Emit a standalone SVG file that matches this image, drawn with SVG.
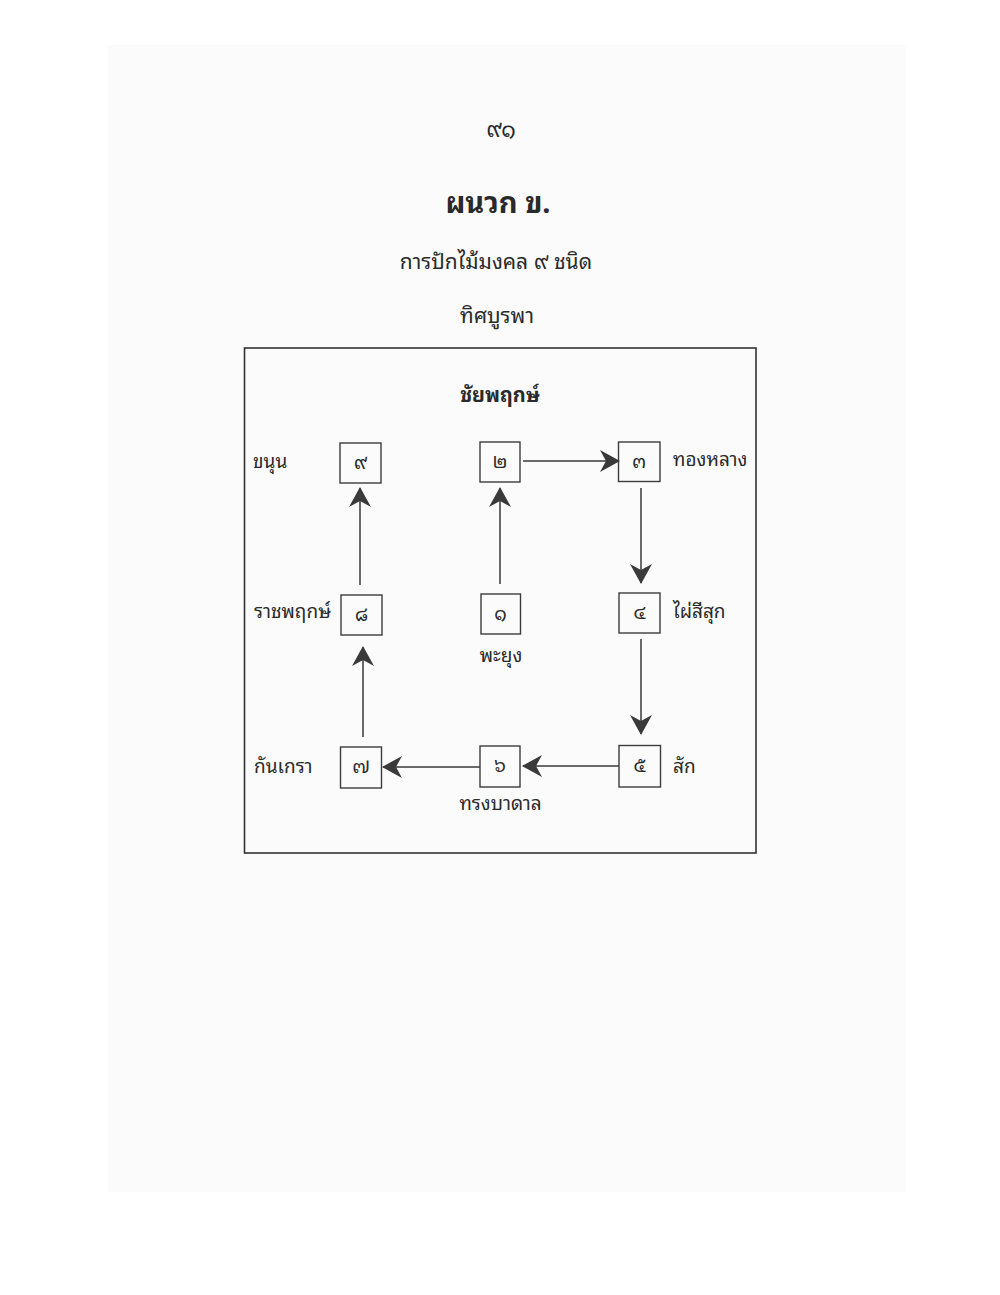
<svg xmlns="http://www.w3.org/2000/svg" width="1000" height="1295" viewBox="0 0 1000 1295">
<defs>
<marker id="ah" markerUnits="userSpaceOnUse" viewBox="0 0 20 22" refX="19" refY="11" markerWidth="20" markerHeight="22" orient="auto">
<path d="M0,0 L20,11 L0,22 L6,11 Z" fill="#3a3a3a"/>
</marker>
</defs>
<style>
text{font-family:"Noto Sans Thai Looped","Noto Serif Thai","Noto Sans Thai","Noto Sans","DejaVu Sans",sans-serif;fill:#2a2a2a}
.lbl{font-size:19px}
.num{font-size:19px;text-anchor:middle}
.box{fill:none;stroke:#3c3c3c;stroke-width:1.4}
.con{stroke:#3a3a3a;stroke-width:1.5;fill:none;marker-end:url(#ah)}
</style>
<rect x="0" y="0" width="1000" height="1295" fill="#ffffff"/>
<rect x="108" y="45" width="798" height="1147" fill="#fbfbfb"/>
<g id="header">
<text x="501" y="137" style="font-size:22px" text-anchor="middle">๙๑</text>
<text x="498" y="213" style="font-size:29px;font-weight:bold" text-anchor="middle">ผนวก ข.</text>
<text x="496" y="269" style="font-size:21px" text-anchor="middle">การปักไม้มงคล ๙ ชนิด</text>
<text x="497" y="323" style="font-size:21px" text-anchor="middle">ทิศบูรพา</text>
</g>
<g id="frame">
<rect x="244.5" y="348" width="511.5" height="505" fill="none" stroke="#333" stroke-width="1.6"/>
<text x="500" y="402" style="font-size:20px;font-weight:bold" text-anchor="middle">ชัยพฤกษ์</text>
</g>
<g id="connectors">
<line class="con" x1="360" y1="585" x2="360" y2="488"/>
<line class="con" x1="500" y1="584" x2="500" y2="488"/>
<line class="con" x1="523" y1="461" x2="619" y2="461"/>
<line class="con" x1="641" y1="488" x2="641" y2="583"/>
<line class="con" x1="641" y1="639" x2="641" y2="734"/>
<line class="con" x1="619" y1="766" x2="523" y2="766"/>
<line class="con" x1="480" y1="767" x2="383" y2="767"/>
<line class="con" x1="363" y1="737" x2="363" y2="647"/>
</g>
<g id="n9"><rect class="box" x="340" y="443" width="41" height="40"/><text class="num" x="360.5" y="469">๙</text><text class="lbl" x="253" y="468">ขนุน</text></g>
<g id="n2"><rect class="box" x="480" y="442" width="40" height="40"/><text class="num" x="500" y="468">๒</text></g>
<g id="n3"><rect class="box" x="618.5" y="442" width="41.5" height="39.5"/><text class="num" x="639" y="468">๓</text><text class="lbl" x="673" y="466">ทองหลาง</text></g>
<g id="n8"><rect class="box" x="341" y="595" width="41" height="40"/><text class="num" x="361.5" y="621">๘</text><text class="lbl" x="254" y="618">ราชพฤกษ์</text></g>
<g id="n1"><rect class="box" x="481" y="594" width="39.5" height="40"/><text class="num" x="500.5" y="620">๑</text><text class="lbl" x="501" y="662" text-anchor="middle">พะยุง</text></g>
<g id="n4"><rect class="box" x="619" y="593" width="41" height="40"/><text class="num" x="639.5" y="619">๔</text><text class="lbl" x="673" y="618">ไผ่สีสุก</text></g>
<g id="n7"><rect class="box" x="340.5" y="747" width="41" height="41"/><text class="num" x="361" y="773">๗</text><text class="lbl" x="254" y="773">กันเกรา</text></g>
<g id="n6"><rect class="box" x="480" y="746" width="40" height="41"/><text class="num" x="500" y="772">๖</text><text class="lbl" x="500.5" y="810" text-anchor="middle">ทรงบาดาล</text></g>
<g id="n5"><rect class="box" x="619" y="745.5" width="41.5" height="41.5"/><text class="num" x="639.5" y="772">๕</text><text class="lbl" x="673" y="773">สัก</text></g>
</svg>
